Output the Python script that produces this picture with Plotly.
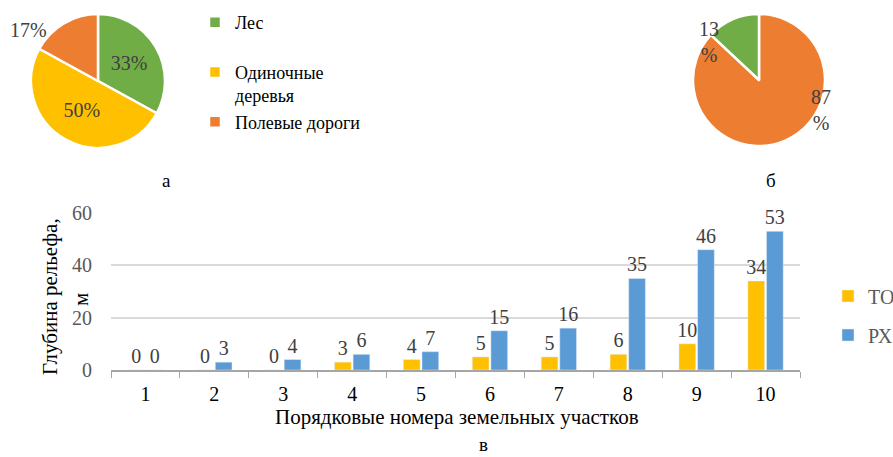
import plotly.graph_objects as go

# ---- data ----
pie_a_labels = ["Лес", "<br>Одиночные<br>деревья", "Полевые дороги"]
pie_a_values = [33, 50, 17]
pie_a_colors = ["#70AD47", "#FFC000", "#ED7D31"]

pie_b_labels = ["Полевые дороги", "Лес"]
pie_b_values = [87, 13]
pie_b_colors = ["#ED7D31", "#70AD47"]

categories = ["1", "2", "3", "4", "5", "6", "7", "8", "9", "10"]
to_values = [0, 0, 0, 3, 4, 5, 5, 6, 10, 34]
px_values = [0, 3, 4, 6, 7, 15, 16, 35, 46, 53]

y_title_lines = ["Глубина рельефа,", "м"]
x_title = "Порядковые номера земельных участков"
captions = ["а", "б", "в"]

W, H = 893, 457
def px(x): return x / W
def py(y): return 1 - y / H

FONT = "Liberation Serif, Times New Roman, serif"
GRAY = "#404040"

fig = go.Figure()

fig.add_trace(go.Pie(
    labels=pie_a_labels, values=pie_a_values, sort=False, direction="clockwise",
    rotation=0, marker=dict(colors=pie_a_colors, line=dict(color="white", width=2.5)),
    textinfo="percent", texttemplate="%{percent:.0%}",
    textposition=["inside", "inside", "none"],
    insidetextorientation="horizontal",
    textfont=dict(family=FONT, size=20, color=GRAY),
    domain=dict(x=[px(31), px(165)], y=[py(148), py(14)]),
    legend="legend", showlegend=True, hoverinfo="label+percent",
))

fig.add_trace(go.Pie(
    labels=pie_b_labels, values=pie_b_values, sort=False, direction="clockwise",
    rotation=0, marker=dict(colors=pie_b_colors, line=dict(color="white", width=2.5)),
    textinfo="none", showlegend=False,
    domain=dict(x=[px(693), px(825)], y=[py(146), py(14)]),
))

fig.add_trace(go.Bar(
    x=categories, y=to_values, name="ТО", marker=dict(color="#FFC000"),
    text=[str(v) for v in to_values], textposition="outside", constraintext="none",
    textfont=dict(family=FONT, size=20, color=GRAY), cliponaxis=False,
    legend="legend2",
))
fig.add_trace(go.Bar(
    x=categories, y=px_values, name="РХ", marker=dict(color="#5B9BD5"),
    text=[str(v) for v in px_values], textposition="outside", constraintext="none",
    textfont=dict(family=FONT, size=20, color=GRAY), cliponaxis=False,
    legend="legend3",
))

def ann(text, x, y, size=19, color="black", angle=0):
    return dict(text=text, x=px(x), y=py(y), xref="paper", yref="paper", showarrow=False,
                xanchor="center", yanchor="middle", textangle=angle, align="center",
                font=dict(family=FONT, size=size, color=color))

annotations = [
    ann(captions[0], 166, 180),
    ann(captions[1], 771, 180),
    ann(captions[2], 483, 444),
    ann(f"{pie_a_values[2]}%", 28, 30, size=20, color=GRAY),
    ann(f"{pie_b_values[1]}<br>%", 709, 42, size=20, color=GRAY),
    ann(f"{pie_b_values[0]}<br>%", 821, 110, size=20, color=GRAY),
    ann(y_title_lines[0], 50, 297, size=21, angle=-90),
    ann(y_title_lines[1], 81, 300, size=21, angle=-90),
    ann(x_title, 457, 417, size=21),
]

fig.update_layout(
    width=W, height=H, margin=dict(l=0, r=0, t=0, b=0, autoexpand=False),
    paper_bgcolor="white", plot_bgcolor="white",
    font=dict(family=FONT, size=19, color="black"),
    barmode="group", bargap=0.46, bargroupgap=0.1,
    xaxis=dict(domain=[px(111), px(800)], showline=True, linecolor="#A6A6A6", linewidth=1.5,
               ticks="outside", tickson="boundaries", ticklen=6, tickcolor="#A6A6A6",
               tickfont=dict(family=FONT, size=20, color="black"), ticklabelstandoff=5,
               automargin=False),
    yaxis=dict(domain=[py(370), py(213)], range=[0, 60], dtick=20, showgrid=True,
               gridcolor="#D9D9D9", gridwidth=1.5, zeroline=False, automargin=False,
               tickfont=dict(family=FONT, size=20, color="#595959"), ticklabelstandoff=18),
    legend=dict(x=px(195), y=py(4), xanchor="left", yanchor="top",
                font=dict(family=FONT, size=18, color="black"), itemwidth=30,
                bgcolor="rgba(0,0,0,0)", traceorder="normal"),
    legend2=dict(x=px(828), y=py(296), xanchor="left", yanchor="middle",
                 font=dict(family=FONT, size=20, color="#595959"), itemwidth=30,
                 bgcolor="rgba(0,0,0,0)"),
    legend3=dict(x=px(828), y=py(335), xanchor="left", yanchor="middle",
                 font=dict(family=FONT, size=20, color="#595959"), itemwidth=30,
                 bgcolor="rgba(0,0,0,0)"),
    annotations=annotations,
)

fig.write_html("out.html", config={"displayModeBar": False},
               post_script="document.body.style.margin='0';")
